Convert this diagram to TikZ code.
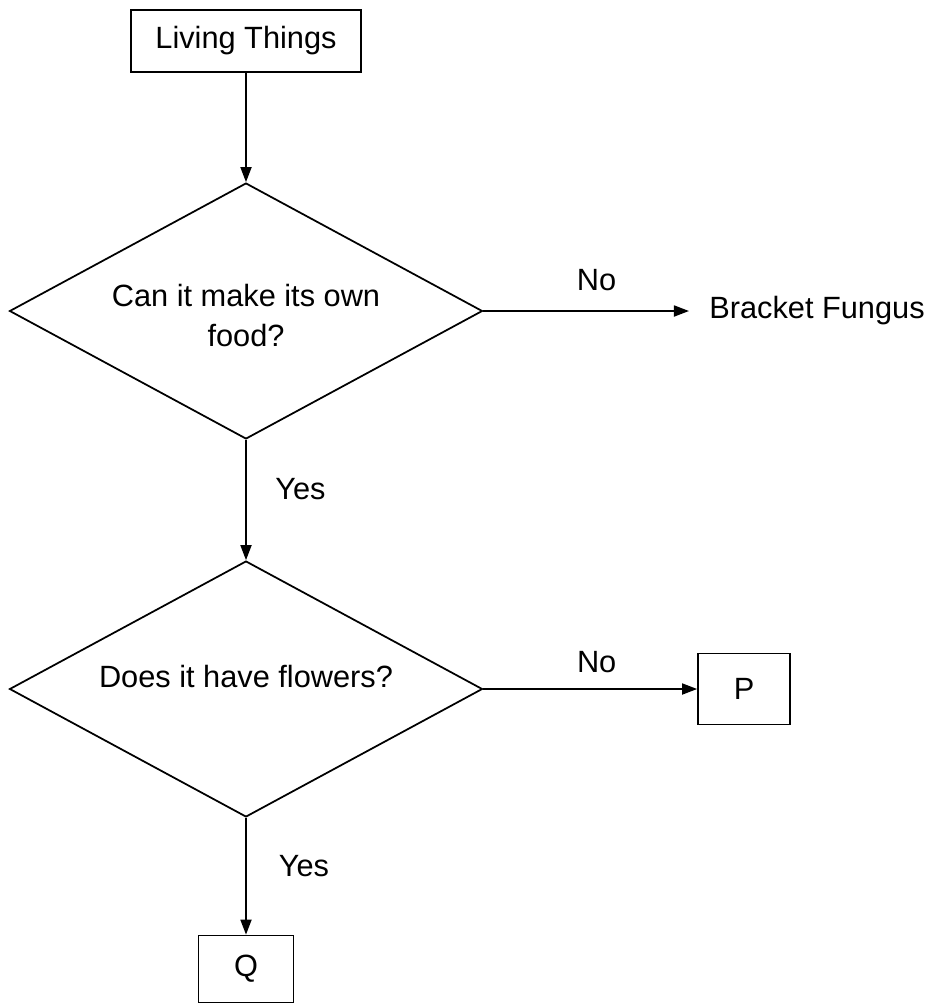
\documentclass[tikz,border=0pt]{standalone}
\usepackage{fontspec}
\setmainfont{Liberation Sans}
\usetikzlibrary{shapes.geometric,arrows.meta}
\tikzset{
	box/.style={draw,shape=rectangle,line width=1pt},
	decision/.style={draw,shape=diamond,aspect=1.85,line width=1pt,align=center,
		minimum width=9.46cm,minimum height=5.12cm,inner sep=2pt},
	flow/.style={-{Triangle[length=0.3cm,width=0.22cm]},line width=1pt},
	lbl/.style={inner sep=2pt},
}
\begin{document}
\begin{tikzpicture}[x=0.02cm,y=-0.02cm,font=\fontsize{17.5}{22.8}\selectfont]
		\useasboundingbox (0,0) rectangle (933,1005);
		
		\node[box,minimum width=4.6cm,minimum height=1.24cm] (liv) at (246,41) {Living Things};
		\node[decision] (food) at (246,311)
			{\raisebox{-0.15cm}[\height][\depth]{\begin{tabular}{@{}c@{}}Can it make its own\\food?\end{tabular}}};
		\node[inner xsep=0.4cm] (fung) at (817,311) {Bracket Fungus};
		\node[decision] (flow) at (246,689)
			{\raisebox{0.25cm}[\height][\depth]{Does it have flowers?}};
		\node[box,minimum width=1.84cm,minimum height=1.42cm] (p) at (744,689) {P};
		\node[box,minimum width=1.9cm,minimum height=1.34cm] (q) at (246,969) {Q};
		
		\draw[flow] (liv) -- (food);
		\draw[flow] (food) -- node[lbl,pos=0.55,above=0.31cm] {No} (fung);
		\draw[flow] (food) -- node[lbl,pos=0.41,right=0.5cm] {Yes} (flow);
		\draw[flow] (flow) -- node[lbl,pos=0.53,above=0.23cm] {No} (p);
		\draw[flow] (flow) -- node[lbl,pos=0.41,right=0.57cm] {Yes} (q);
		\end{tikzpicture}
\end{document}
